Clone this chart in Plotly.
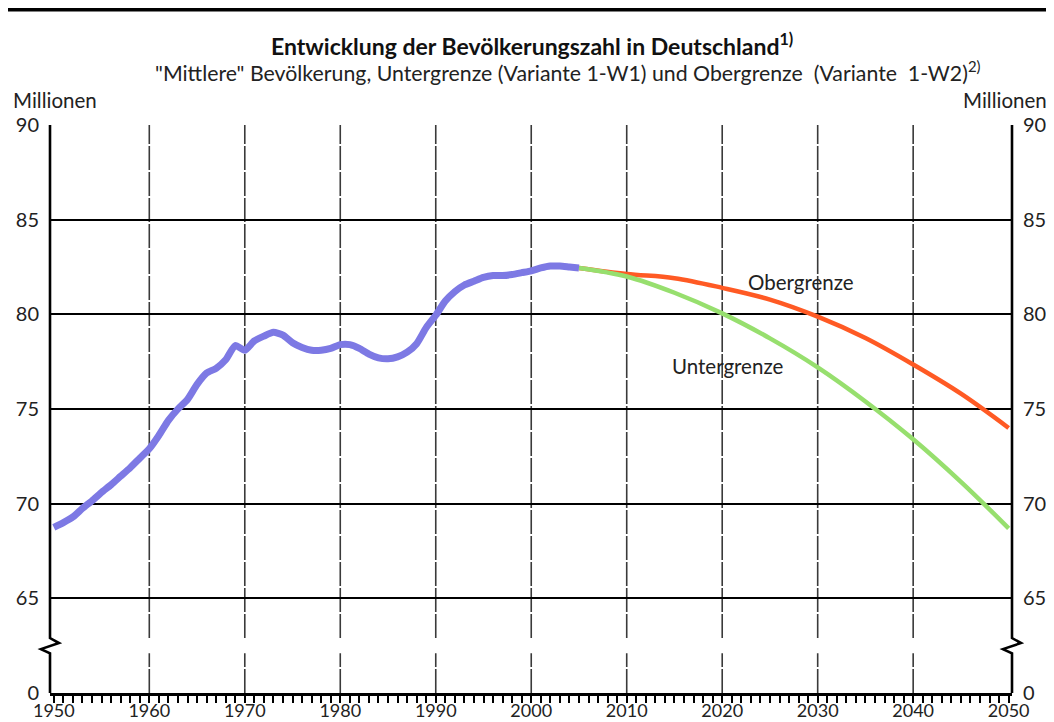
import plotly.graph_objects as go

# ---------------- data ----------------
hist_years = list(range(1950, 2006))
hist_values = [68.75, 69.0, 69.3, 69.75, 70.15, 70.6, 71.0, 71.45, 71.9, 72.4,
               72.9, 73.6, 74.4, 75.0, 75.5, 76.3, 76.9, 77.15, 77.6, 78.35,
               78.1, 78.6, 78.85, 79.05, 78.9, 78.5, 78.25, 78.1, 78.1, 78.2,
               78.4, 78.4, 78.2, 77.9, 77.7, 77.65, 77.75, 78.0, 78.45, 79.3,
               79.95, 80.7, 81.2, 81.55, 81.75, 81.95, 82.05, 82.05, 82.1, 82.2,
               82.3, 82.45, 82.55, 82.55, 82.5, 82.45]

proj_years = [2005, 2010, 2015, 2020, 2025, 2030, 2035, 2040, 2045, 2050]
unter_values = [82.45, 82.0, 81.14, 80.05, 78.73, 77.2, 75.4, 73.4, 71.15, 68.7]
ober_values = [82.45, 82.13, 81.91, 81.4, 80.78, 79.88, 78.75, 77.35, 75.81, 74.0]

# y axis: value 60 stands for the broken-axis "0"
y_tickvals = [60, 65, 70, 75, 80, 85, 90]
y_ticktext = ["0", "65", "70", "75", "80", "85", "90"]
x_tickvals = list(range(1950, 2051, 10))
grid_years = list(range(1960, 2050, 10))

title_text = "Entwicklung der Bevölkerungszahl in Deutschland<sup>1)</sup>"
subtitle_text = ('"Mittlere" Bevölkerung, Untergrenze (Variante 1-W1) und Obergrenze  '
                 '(Variante  1-W2)<sup>2)</sup>')

FONT = "Lato, sans-serif"
BLUE = "#7d79e4"
GREEN = "#97df6e"
RED = "#ff5a24"

Y_MIN, Y_MAX = 60, 90
BREAK_LO, BREAK_HI = 62.1, 62.9

fig = go.Figure()

fig.add_trace(go.Scatter(x=proj_years, y=ober_values, mode="lines",
                         line=dict(color=RED, width=4.5, shape="spline"),
                         hoverinfo="skip", showlegend=False))
fig.add_trace(go.Scatter(x=proj_years, y=unter_values, mode="lines",
                         line=dict(color=GREEN, width=4.5, shape="spline"),
                         hoverinfo="skip", showlegend=False))
fig.add_trace(go.Scatter(x=hist_years, y=hist_values, mode="lines",
                         line=dict(color=BLUE, width=7, shape="spline", smoothing=0.6),
                         hoverinfo="skip", showlegend=False))
# invisible trace to activate the right-hand axis
fig.add_trace(go.Scatter(x=[hist_years[0]], y=[hist_values[0]], yaxis="y2",
                         mode="markers", marker=dict(opacity=0),
                         hoverinfo="skip", showlegend=False))

shapes = []
# dashed vertical gridlines with a gap at the axis break
for yr in grid_years:
    for y0, y1 in [(Y_MIN, BREAK_LO), (BREAK_HI, Y_MAX)]:
        shapes.append(dict(type="line", xref="x", yref="y", x0=yr, x1=yr, y0=y0, y1=y1,
                           line=dict(color="#3a3a3a", width=1.6, dash="24px,2px"),
                           layer="below"))

# left/right axis lines with zigzag break
zz = 9 / 962
for xp in (0, 1):
    path = (f"M {xp},{Y_MAX} L {xp},62.9 L {xp + zz},62.64 L {xp - zz},62.32 "
            f"L {xp},62.1 L {xp},{Y_MIN}")
    shapes.append(dict(type="path", xref="paper", yref="y", path=path,
                       line=dict(color="black", width=2.6), layer="above"))

# thick line at the very top of the figure
top_y = (685 - 1.8) / 568
shapes.append(dict(type="line", xref="paper", yref="paper", x0=-0.06, x1=1.06,
                   y0=top_y, y1=top_y, line=dict(color="black", width=3.6)))

annotations = [
    dict(text=title_text, xref="paper", yref="paper", x=(532 - 50) / 962, y=(693 - 45) / 568,
         showarrow=False, xanchor="center", yanchor="middle",
         font=dict(family=FONT, size=23, color="#111", weight=700)),
    dict(text=subtitle_text, xref="paper", yref="paper", x=(568 - 50) / 962, y=(693 - 71) / 568,
         showarrow=False, xanchor="center", yanchor="middle",
         font=dict(family=FONT, size=21.3, color="#222")),
    dict(text="Millionen", xref="paper", yref="paper", x=(11 - 50) / 962, y=(693 - 100) / 568,
         showarrow=False, xanchor="left", yanchor="middle",
         font=dict(family=FONT, size=20.5, color="#222")),
    dict(text="Millionen", xref="paper", yref="paper", x=(1049 - 50) / 962, y=(693 - 100) / 568,
         showarrow=False, xanchor="right", yanchor="middle",
         font=dict(family=FONT, size=20.5, color="#222")),
    dict(text="Obergrenze", x=2028.2, y=81.72, xref="x", yref="y", showarrow=False,
         font=dict(family=FONT, size=20.5, color="#222")),
    dict(text="Untergrenze", x=2020.6, y=77.27, xref="x", yref="y", showarrow=False,
         font=dict(family=FONT, size=20.5, color="#222")),
]

yaxis_common = dict(range=[Y_MIN, Y_MAX], tickvals=y_tickvals, ticktext=y_ticktext,
                    ticks="", showline=False, zeroline=False, fixedrange=True,
                    automargin=False,
                    tickfont=dict(family=FONT, size=20, color="#222"))

# page body has an 8px margin, so the figure is 8px smaller than the window
fig.update_layout(
    width=1046, height=714,
    margin=dict(l=42, r=42, t=117, b=29, autoexpand=False),
    paper_bgcolor="white", plot_bgcolor="white",
    showlegend=False,
    xaxis=dict(range=[1949.6, 2050.35], tickvals=x_tickvals, showgrid=False,
               zeroline=False, showline=True, linecolor="black", linewidth=2.6,
               automargin=False,
               ticks="outside", ticklen=7, tickwidth=2, tickcolor="black",
               ticklabelstandoff=-7,
               minor=dict(dtick=1, tick0=1950, ticks="outside", ticklen=7,
                          tickwidth=1.5, tickcolor="black", showgrid=False),
               tickfont=dict(family=FONT, size=18, color="#222")),
    yaxis=dict(**yaxis_common, side="left", showgrid=True, gridcolor="black", gridwidth=2,
               ticklabelstandoff=10),
    yaxis2=dict(**yaxis_common, side="right", overlaying="y", showgrid=False,
                ticklabelstandoff=10),
    shapes=shapes,
    annotations=annotations,
)

fig.write_html("out.html")
